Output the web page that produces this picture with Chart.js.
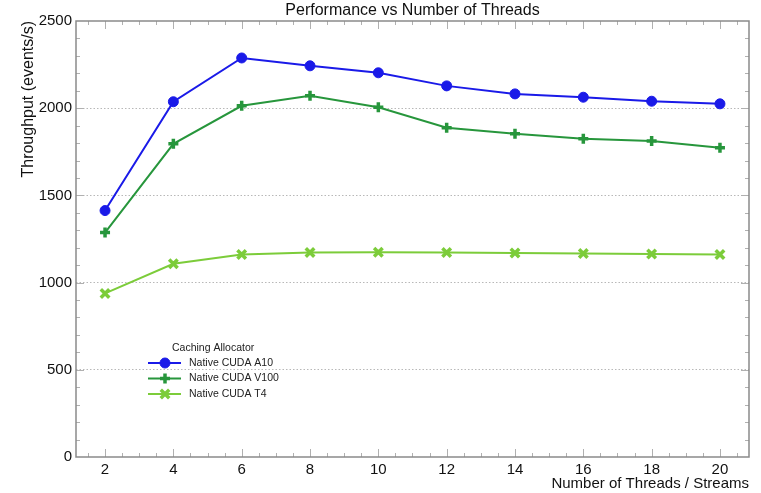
<!DOCTYPE html>
<html>
<head>
<meta charset="utf-8">
<script src="https://cdn.jsdelivr.net/npm/chart.js@4"></script>
<style>
  html, body { margin: 0; padding: 0; background: #fff; }
  #wrap { width: 761px; height: 493px; }
</style>
</head>
<body>
<div id="wrap"><canvas id="perfChart" width="761" height="493"></canvas></div>
<script>
// data
const threads = [2, 4, 6, 8, 10, 12, 14, 16, 18, 20];
const a10 = [1413, 2037, 2288, 2243, 2203, 2128, 2082, 2063, 2040, 2025];
const v100 = [1287, 1796, 2014, 2071, 2005, 1888, 1854, 1825, 1812, 1773];
const t4 = [938, 1108, 1161, 1173, 1174, 1172, 1170, 1167, 1164, 1161];

const xTicks = [2, 4, 6, 8, 10, 12, 14, 16, 18, 20];
const yTicks = [0, 500, 1000, 1500, 2000, 2500];

const FONT = "'Liberation Sans', Arial, Helvetica, sans-serif";
const FRAME = '#8a8a8a';

function pairs(ys) {
    return threads.map((x, i) => ({ x: x, y: ys[i] }));
}

// ROOT style frame, inward ticks, title and legend
const rootStyle = {
    id: 'rootStyle',
    afterDatasetsDraw(chart) {
        const ctx = chart.ctx;
        const a = chart.chartArea;
        const xs = chart.scales.x;
        const ys = chart.scales.y;
        ctx.save();

        // inward ticks
        ctx.strokeStyle = '#b0b0b0';
        ctx.lineWidth = 1;
        ctx.beginPath();
        for (let v = 1.5; v <= 20.5; v += 0.5) {
            const px = Math.round(xs.getPixelForValue(v)) + 0.5;
            const len = (v % 2 === 0) ? 8 : 4;
            ctx.moveTo(px, a.bottom); ctx.lineTo(px, a.bottom - len);
            ctx.moveTo(px, a.top); ctx.lineTo(px, a.top + len);
        }
        for (let v = 100; v < 2500; v += 100) {
            const py = Math.round(ys.getPixelForValue(v)) + 0.5;
            const len = (v % 500 === 0) ? 8 : 4;
            ctx.moveTo(a.left, py); ctx.lineTo(a.left + len, py);
            ctx.moveTo(a.right, py); ctx.lineTo(a.right - len, py);
        }
        ctx.stroke();

        // frame
        ctx.strokeStyle = FRAME;
        ctx.lineWidth = 1.5;
        ctx.strokeRect(a.left, a.top, a.right - a.left, a.bottom - a.top);

        // title
        ctx.fillStyle = '#111';
        ctx.font = '16px ' + FONT;
        ctx.textAlign = 'center';
        ctx.textBaseline = 'middle';
        ctx.fillText('Performance vs Number of Threads', (a.left + a.right) / 2, 11);

        // legend
        const lx = a.left + 72;
        const ly = a.top + 327;
        ctx.font = '10.5px ' + FONT;
        ctx.textAlign = 'left';
        ctx.fillStyle = '#222';
        ctx.fillText('Caching Allocator', lx + 24, ly);
        chart.data.datasets.forEach((ds, i) => {
            const y = ly + 15 + i * 15.5;
            ctx.strokeStyle = ds.borderColor;
            ctx.lineWidth = 2;
            ctx.beginPath();
            ctx.moveTo(lx, y); ctx.lineTo(lx + 33, y);
            ctx.stroke();
            ctx.fillStyle = ds.pointBackgroundColor;
            ctx.strokeStyle = ds.pointBorderColor;
            ctx.lineWidth = ds.pointBorderWidth;
            Chart.helpers.drawPoint(ctx, {
                pointStyle: ds.pointStyle,
                radius: ds.pointRadius,
                borderWidth: ds.pointBorderWidth
            }, lx + 17, y);
            ctx.fillStyle = '#222';
            ctx.fillText(ds.label, lx + 41, y);
        });
        ctx.restore();
    }
};

const ctx = document.getElementById('perfChart').getContext('2d');
const perfChart = new Chart(ctx, {
    type: 'line',
    data: {
        datasets: [{
            label: 'Native CUDA A10',
            data: pairs(a10),
            borderColor: '#1a1ae8',
            backgroundColor: '#1a1ae8',
            pointBackgroundColor: '#1a1ae8',
            pointBorderColor: '#1a1ae8',
            pointStyle: 'circle',
            pointRadius: 5,
            pointBorderWidth: 1,
            borderWidth: 2
        }, {
            label: 'Native CUDA V100',
            data: pairs(v100),
            borderColor: '#27963c',
            backgroundColor: '#27963c',
            pointBackgroundColor: '#27963c',
            pointBorderColor: '#27963c',
            pointStyle: 'cross',
            pointRadius: 5,
            pointBorderWidth: 3.5,
            borderWidth: 2
        }, {
            label: 'Native CUDA T4',
            data: pairs(t4),
            borderColor: '#7ccc3a',
            backgroundColor: '#7ccc3a',
            pointBackgroundColor: '#7ccc3a',
            pointBorderColor: '#7ccc3a',
            pointStyle: 'crossRot',
            pointRadius: 6,
            pointBorderWidth: 3.5,
            borderWidth: 2
        }]
    },
    options: {
        responsive: false,
        animation: false,
        layout: { padding: { top: 21, right: 12, left: 0, bottom: 0 } },
        elements: { line: { tension: 0 } },
        plugins: {
            legend: { display: false },
            title: { display: false },
            tooltip: { enabled: false }
        },
        scales: {
            x: {
                type: 'linear',
                min: 1.15,
                max: 20.85,
                afterBuildTicks: function(scale) {
                    scale.ticks = xTicks.map(v => ({ value: v }));
                },
                afterFit: function(scale) { scale.height = 36; },
                grid: { display: false, drawTicks: false },
                border: { display: false },
                ticks: {
                    color: '#111',
                    padding: 4,
                    maxRotation: 0,
                    font: { family: FONT, size: 15 }
                },
                title: {
                    display: true,
                    text: 'Number of Threads / Streams',
                    align: 'end',
                    color: '#111',
                    padding: { top: 0, bottom: 0 },
                    font: { family: FONT, size: 15 }
                }
            },
            y: {
                min: 0,
                max: 2500,
                afterBuildTicks: function(scale) {
                    scale.ticks = yTicks.map(v => ({ value: v }));
                },
                afterFit: function(scale) { scale.width = 76; },
                grid: {
                    drawTicks: false,
                    color: c => (c.tick.value === 0 || c.tick.value === 2500) ? 'rgba(0,0,0,0)' : '#b8b8b8'
                },
                border: { display: false, dash: [1.5, 2] },
                ticks: {
                    color: '#111',
                    padding: 4,
                    font: { family: FONT, size: 15 },
                    callback: v => String(v)
                },
                title: {
                    display: true,
                    text: 'Throughput (events/s)',
                    align: 'end',
                    color: '#111',
                    padding: { top: 19, bottom: 0 },
                    font: { family: FONT, size: 16 }
                }
            }
        }
    },
    plugins: [rootStyle]
});
</script>
</body>
</html>
